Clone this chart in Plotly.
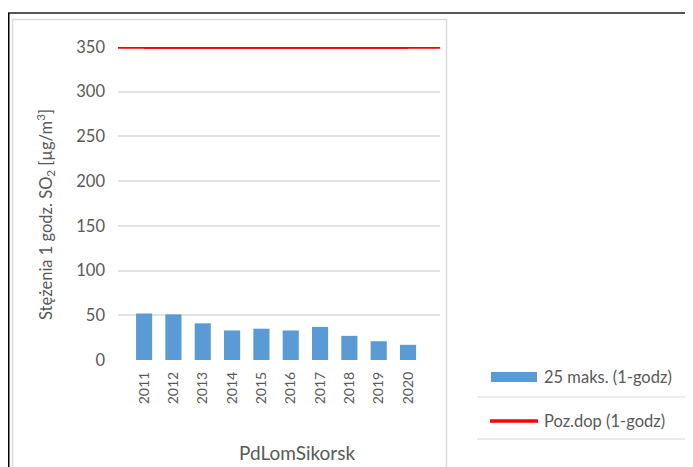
import plotly.graph_objects as go

years = ["2011", "2012", "2013", "2014", "2015", "2016", "2017", "2018", "2019", "2020"]
max25 = [52, 51, 41, 33, 35, 33, 37, 27, 21, 17]
limit = [350] * len(years)
y_ticks = [0, 50, 100, 150, 200, 250, 300, 350]
bar_name = "25 maks. (1-godz)"
line_name = "Poz.dop (1-godz)"
station = "PdLomSikorsk"

OFF = 8  # page body margin
W, H = 693 - OFF, 467 - OFF
L, R, T, B = 118 - OFF, 440 - OFF, 47 - OFF, 360 - OFF
FONT = "Lato, Open Sans, sans-serif"
GREY = "#595959"
BLUE = "#5b9bd5"
RED = "#ff0000"

def px(x):
    return (x - OFF - L) / (R - L)

def py(y):
    return (B - (y - OFF)) / (B - T)

fig = go.Figure()
fig.add_trace(go.Bar(x=years, y=max25, name=bar_name, marker_color=BLUE,
                     marker_line_width=0, showlegend=False))
fig.add_trace(go.Scatter(x=years, y=limit, name=line_name, mode="lines",
                         line=dict(color=RED, width=3.5), showlegend=False))

shapes = []
shapes.append(dict(type="line", xref="x domain", yref="y", x0=0, x1=1,
                   y0=limit[0], y1=limit[0], line=dict(color=RED, width=3.5)))
# outer frame
shapes.append(dict(type="line", xref="paper", yref="paper", x0=px(8), x1=px(700),
                   y0=py(13), y1=py(13), line=dict(color="#555555", width=2)))
shapes.append(dict(type="line", xref="paper", yref="paper", x0=px(8.5), x1=px(8.5),
                   y0=py(13), y1=py(475), line=dict(color="#000000", width=2)))
# inner chart box
shapes.append(dict(type="rect", xref="paper", yref="paper", x0=px(12.5), x1=px(446.5),
                   y0=py(19.5), y1=py(475), line=dict(color="#d9d9d9", width=1.5)))
# legend separators
for yy in (397, 439):
    shapes.append(dict(type="line", xref="paper", yref="paper", x0=px(477), x1=px(700),
                       y0=py(yy), y1=py(yy), line=dict(color="#e6e6e6", width=1.5)))
# legend symbols
shapes.append(dict(type="rect", xref="paper", yref="paper", x0=px(491), x1=px(537),
                   y0=py(372), y1=py(382), fillcolor=BLUE, line=dict(width=0)))
shapes.append(dict(type="line", xref="paper", yref="paper", x0=px(490), x1=px(538),
                   y0=py(421), y1=py(421), line=dict(color=RED, width=3.5)))

annotations = [
    dict(text=bar_name, xref="paper", yref="paper", x=px(542), y=py(377),
         xanchor="left", yanchor="middle", showarrow=False,
         font=dict(family=FONT, size=16.5, color=GREY)),
    dict(text=line_name, xref="paper", yref="paper", x=px(542), y=py(421),
         xanchor="left", yanchor="middle", showarrow=False,
         font=dict(family=FONT, size=16.5, color=GREY)),
    dict(text=station, xref="paper", yref="paper", x=px(297), y=py(452),
         xanchor="center", yanchor="middle", showarrow=False,
         font=dict(family=FONT, size=19, color=GREY)),
    dict(text="Stężenia 1 godz. SO<sub>2</sub> [µg/m<sup>3</sup>]", xref="paper", yref="paper",
         x=px(45), y=py(215), xanchor="center", yanchor="middle", textangle=-90,
         showarrow=False, font=dict(family=FONT, size=16.5, color=GREY)),
]

fig.update_layout(
    width=W, height=H,
    margin=dict(l=L, r=W - R, t=T, b=H - B, pad=0),
    paper_bgcolor="white", plot_bgcolor="white",
    bargap=0.45,
    shapes=shapes, annotations=annotations,
    font=dict(family=FONT, color=GREY),
    xaxis=dict(type="category", range=[-0.89, 10.09], tickangle=-90,
               tickfont=dict(family=FONT, size=14, color=GREY),
               showgrid=False, zeroline=False, showline=False, ticks="",
               ticklabelstandoff=8),
    yaxis=dict(range=[0, 350], tickvals=y_ticks, showgrid=True, gridcolor="#e3e3e3",
               gridwidth=1.5, zeroline=False, showline=False, ticks="",
               tickfont=dict(family=FONT, size=16.5, color=GREY), ticklabelstandoff=12),
)

fig.write_html("out.html")
